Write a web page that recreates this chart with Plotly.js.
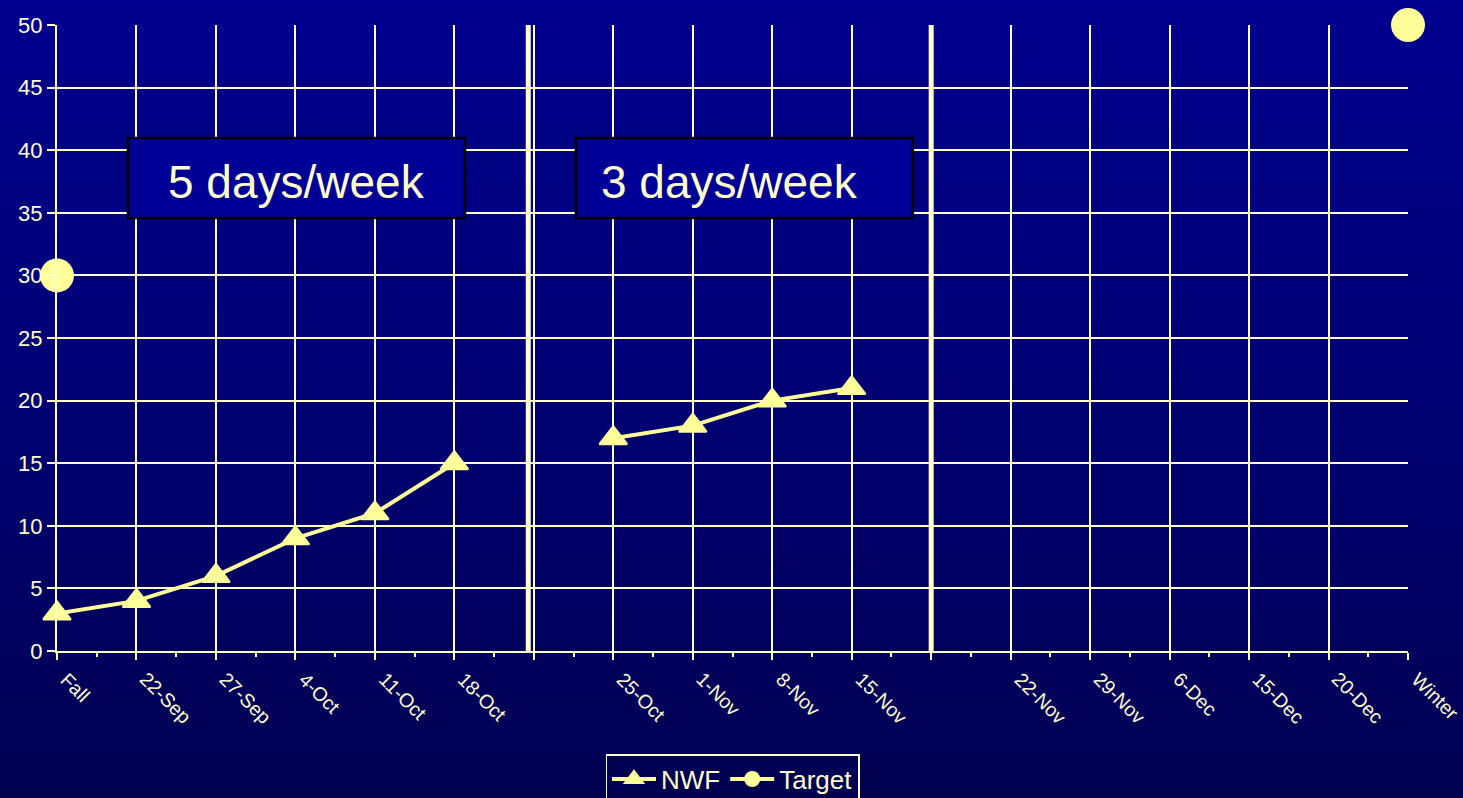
<!DOCTYPE html>
<html>
<head>
<meta charset="utf-8">
<script src="https://cdn.plot.ly/plotly-3.0.1.min.js"></script>
<style>
  html, body { margin: 0; padding: 0; }
  body {
    width: 1463px; height: 798px; overflow: hidden;
    background: linear-gradient(to bottom, #00008e 0%, #000070 55%, #000050 100%);
  }
  #chart { width: 1463px; height: 798px; }
</style>
</head>
<body>
<div id="chart"></div>
<script>
// Weekly check dates (blank slots mark the phase breaks)
const categories = ['Fall', '22-Sep', '27-Sep', '4-Oct', '11-Oct', '18-Oct', '',
  '25-Oct', '1-Nov', '8-Nov', '15-Nov', '',
  '22-Nov', '29-Nov', '6-Dec', '15-Dec', '20-Dec', 'Winter'];

// Nonsense word fluency scores
const nwfValues = [3, 4, 6, 9, 11, 15, null, 17, 18, 20, 21, null,
  null, null, null, null, null, null];

// Benchmark targets (fall and winter)
const targetValues = [30, null, null, null, null, null, null, null, null, null, null, null,
  null, null, null, null, null, 50];

const yTicks = [0, 5, 10, 15, 20, 25, 30, 35, 40, 45, 50];

const phaseLabels = ['5 days/week', '3 days/week'];

const xIdx = categories.map((c, i) => i);

const lineColor = '#ffff99';
const gridColor = '#ffffcc';
const textColor = '#ffffcc';
const font = 'Liberation Sans, Arial, sans-serif';

const traces = [
  {
    name: 'NWF',
    x: xIdx,
    y: nwfValues,
    type: 'scatter',
    mode: 'lines+markers',
    connectgaps: false,
    line: { color: lineColor, width: 4 },
    marker: { symbol: 'triangle-up', size: 24, color: lineColor,
      line: { color: lineColor, width: 2 } },
    cliponaxis: false
  },
  {
    name: 'Target',
    x: xIdx,
    y: targetValues,
    type: 'scatter',
    mode: 'lines+markers',
    connectgaps: false,
    line: { color: lineColor, width: 4 },
    marker: { symbol: 'circle', size: 34, color: lineColor },
    cliponaxis: false
  }
];

// Slanted date labels under each category slot
const dateLabels = categories
  .map((c, i) => ({ c, i }))
  .filter(d => d.c !== '')
  .map(d => ({
    xref: 'x', yref: 'paper', x: d.i, y: -0.025,
    text: d.c, showarrow: false, textangle: 45,
    xanchor: 'left', yanchor: 'top', xshift: -2,
    borderpad: 0,
    font: { size: 19.5, color: textColor, family: font }
  }));

const layout = {
  width: 1463,
  height: 798,
  autosize: false,
  margin: { l: 57, r: 55, t: 25, b: 147 },
  paper_bgcolor: 'rgba(0,0,0,0)',
  plot_bgcolor: 'rgba(0,0,0,0)',
  font: { family: font, color: textColor },
  showlegend: true,
  legend: {
    orientation: 'h',
    x: 0.5, xanchor: 'center',
    yref: 'container',
    y: 0.055, yanchor: 'top',
    bgcolor: 'rgba(0,0,0,0)',
    bordercolor: gridColor,
    borderwidth: 1.5,
    font: { size: 26, color: textColor, family: font },
    itemwidth: 44,
    tracegroupgap: 0
  },
  xaxis: {
    range: [0, categories.length - 1],
    automargin: false,
    tickmode: 'array',
    tickvals: xIdx,
    ticktext: categories,
    showticklabels: false,
    ticks: 'outside',
    ticklen: 7,
    tickwidth: 2,
    tickcolor: gridColor,
    showgrid: true,
    gridcolor: gridColor,
    gridwidth: 2,
    showline: true,
    linecolor: gridColor,
    linewidth: 2,
    zeroline: false,
    fixedrange: true,
    minor: {
      tickmode: 'linear', tick0: 0.5, dtick: 1,
      ticks: 'outside', ticklen: 4, tickwidth: 2, tickcolor: gridColor,
      showgrid: false
    }
  },
  yaxis: {
    range: [0, 50],
    automargin: false,
    tickmode: 'array',
    tickvals: yTicks,
    tickfont: { size: 22, color: textColor, family: font },
    ticks: 'outside',
    ticklen: 8,
    tickwidth: 2,
    tickcolor: gridColor,
    showgrid: true,
    gridcolor: gridColor,
    gridwidth: 2,
    showline: true,
    linecolor: gridColor,
    linewidth: 2,
    zeroline: false,
    fixedrange: true
  },
  shapes: [
    // phase change lines
    { type: 'line', xref: 'x', yref: 'y', x0: 5.93, x1: 5.93, y0: 0, y1: 50,
      line: { color: gridColor, width: 5 }, layer: 'above' },
    { type: 'line', xref: 'x', yref: 'y', x0: 11, x1: 11, y0: 0, y1: 50,
      line: { color: gridColor, width: 5 }, layer: 'above' },
    // phase label boxes
    { type: 'rect', xref: 'x', yref: 'y', x0: 0.893, x1: 5.134, y0: 34.58, y1: 40.97,
      fillcolor: '#000096', line: { color: '#000000', width: 2.5 }, layer: 'above' },
    { type: 'rect', xref: 'x', yref: 'y', x0: 6.53, x1: 10.77, y0: 34.58, y1: 40.97,
      fillcolor: '#000096', line: { color: '#000000', width: 2.5 }, layer: 'above' }
  ],
  annotations: [
    { xref: 'x', yref: 'y', x: 3.014, y: 37.45, text: phaseLabels[0], showarrow: false,
      xanchor: 'center', yanchor: 'middle',
      font: { size: 46, color: textColor, family: font } },
    { xref: 'x', yref: 'y', x: 8.462, y: 37.45, text: phaseLabels[1], showarrow: false,
      xanchor: 'center', yanchor: 'middle',
      font: { size: 46, color: textColor, family: font } }
  ].concat(dateLabels)
};

Plotly.newPlot('chart', traces, layout, { displayModeBar: false, staticPlot: true });
</script>
</body>
</html>
